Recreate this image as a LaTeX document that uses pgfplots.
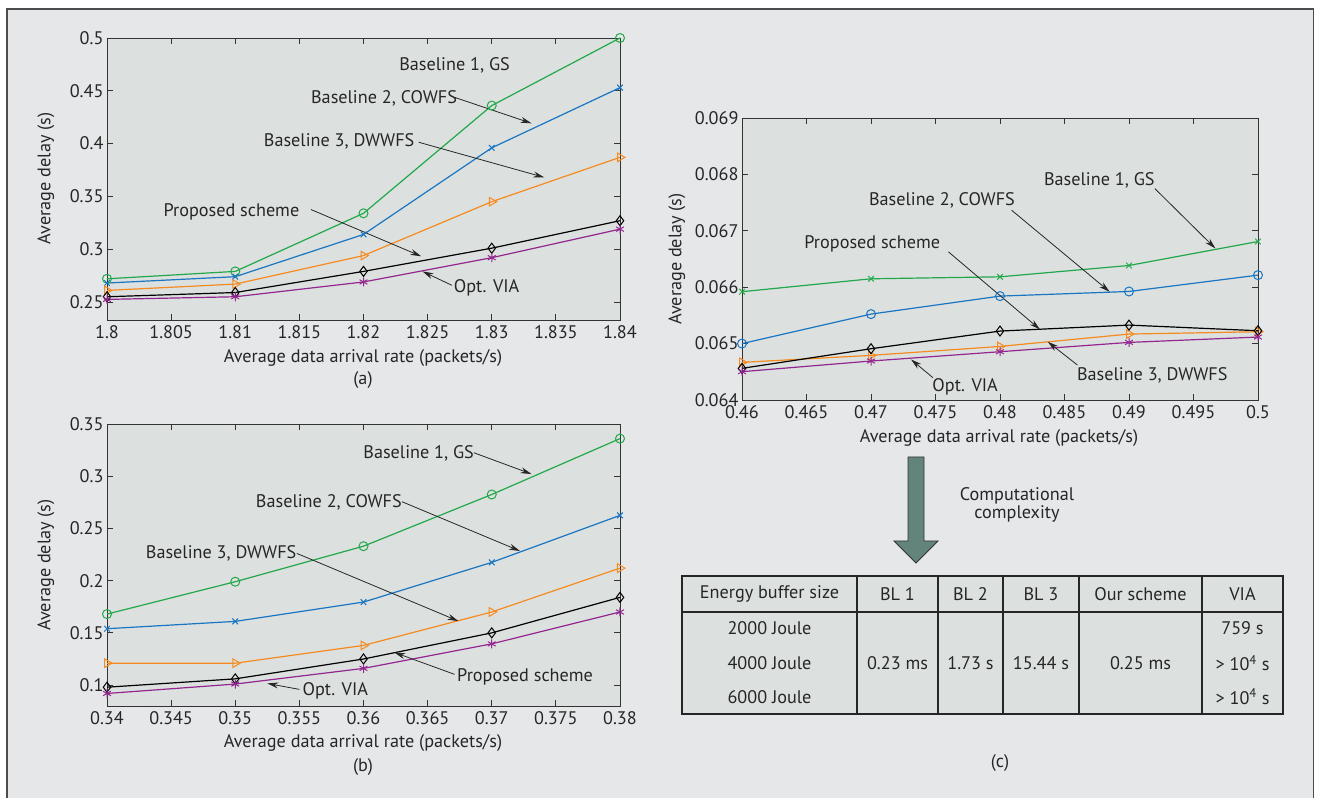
\documentclass[border=0pt]{standalone}
\usepackage{pgfplots}
\pgfplotsset{compat=1.18}
\usepackage{pgfplotstable}
\usepackage{fontspec}
\setmainfont{PT Sans}
\usetikzlibrary{arrows.meta}
\definecolor{framebg}{HTML}{E6E7E9}
\definecolor{axisbg}{HTML}{DCE1DF}
\definecolor{cgreen}{HTML}{22A84A}
\definecolor{cblue}{HTML}{1A75C2}
\definecolor{corange}{HTML}{F58A1F}
\definecolor{cpurple}{HTML}{93278F}
\definecolor{arrowfill}{HTML}{62847A}
\newcommand{\fs}{\fontsize{18.2}{21}\selectfont}

\pgfplotstableread{
x gs cowfs dwwfs prop via
1.80 0.272 0.268 0.261 0.255 0.2525
1.81 0.279 0.274 0.267 0.259 0.255
1.82 0.334 0.314 0.294 0.279 0.269
1.83 0.436 0.396 0.345 0.301 0.292
1.84 0.500 0.453 0.387 0.327 0.319
}\tableA
\pgfplotstableread{
x gs cowfs dwwfs prop via
0.34 0.168 0.154 0.121 0.098 0.092
0.35 0.199 0.161 0.121 0.106 0.101
0.36 0.233 0.1795 0.138 0.125 0.116
0.37 0.2825 0.2175 0.170 0.150 0.1395
0.38 0.336 0.2625 0.212 0.184 0.170
}\tableB
\pgfplotstableread{
x gs cowfs dwwfs prop via
0.46 0.06592 0.06500 0.064667 0.064561 0.064502
0.47 0.066149 0.065523 0.064791 0.064909 0.064691
0.48 0.066184 0.065842 0.06495 0.065222 0.064856
0.49 0.066385 0.065924 0.065169 0.065328 0.065021
0.50 0.06681 0.066214 0.06521 0.065228 0.065116
}\tableC

\tikzset{
  ann/.style={font=\fs, text=black!85, inner sep=1pt},
  arr/.style={-{Stealth[length=11pt,width=6pt]}, line width=0.8pt, black!85},
}
\pgfplotsset{
  panel/.style={
    scale only axis,
    anchor=south west,
    axis background/.style={fill=axisbg},
    axis line style={draw=black!80, line width=0.9pt},
    major tick length=6pt,
    tick style={draw=black!80, line width=0.8pt},
    tick align=inside,
    xtick pos=both, ytick pos=both,
    scaled ticks=false,
    /pgf/number format/assume math mode=true,
    /pgf/number format/.cd, fixed, precision=3,
    /pgfplots/.cd,
    tick label style={font=\fs, text=black!85},
    xticklabel style={yshift=-2pt},
    clip=false,
    every axis plot/.append style={line width=1.2pt},
  },
}

\begin{document}
\begin{tikzpicture}
\useasboundingbox (0pt,0pt) rectangle (1318pt,798pt);
\fill[white] (0pt,0pt) rectangle (1318pt,798pt);
\fill[framebg] (6pt,0pt) rectangle (1314pt,789pt);
\draw[black!70, line width=1.5pt] (6.75pt,0pt) -- (6.75pt,789pt) -- (1313.25pt,789pt) -- (1313.25pt,0pt);

% ---------------- (a)
\begin{axis}[panel, at={(107pt,478pt)}, width=513pt, height=282pt,
  xmin=1.8, xmax=1.84, ymin=0.233, ymax=0.5,
  xtick={1.8,1.805,1.81,1.815,1.82,1.825,1.83,1.835,1.84},
  ytick={0.25,0.3,0.35,0.4,0.45,0.5}]
\addplot[cgreen, mark=o, mark size=4.5pt, mark options={line width=1pt}] table[x=x,y=gs]{\tableA};
\addplot[cblue, mark=x, mark size=4pt, mark options={line width=1pt}] table[x=x,y=cowfs]{\tableA};
\addplot[corange, mark=triangle, mark size=5pt, mark options={rotate=-90, line width=1pt}] table[x=x,y=dwwfs]{\tableA};
\addplot[black, mark=diamond, mark size=5pt, mark options={line width=1pt}] table[x=x,y=prop]{\tableA};
\addplot[cpurple, mark=asterisk, mark size=4.5pt, mark options={line width=1pt}] table[x=x,y=via]{\tableA};
\node[ann] at (axis cs:1.8271,0.474) {Baseline 1, GS};
\node[ann] at (axis cs:1.8216,0.443) {Baseline 2, COWFS};
\draw[arr] (axis cs:1.8271,0.4438) -- (axis cs:1.8331,0.4192);
\node[ann] at (axis cs:1.8181,0.4022) {Baseline 3, DWWFS};
\draw[arr] (axis cs:1.8243,0.4013) -- (axis cs:1.8341,0.368);
\node[ann] at (axis cs:1.8097,0.335) {Proposed scheme};
\draw[arr] (axis cs:1.8159,0.3376) -- (axis cs:1.8245,0.2933);
\node[ann] at (axis cs:1.8296,0.263) {Opt. VIA};
\draw[arr] (axis cs:1.8269,0.2658) -- (axis cs:1.8246,0.279);
\end{axis}

% ---------------- (b)
\begin{axis}[panel, at={(107pt,92pt)}, width=513pt, height=282pt,
  xmin=0.34, xmax=0.38, ymin=0.08, ymax=0.35,
  xtick={0.34,0.345,0.35,0.355,0.36,0.365,0.37,0.375,0.38},
  ytick={0.1,0.15,0.2,0.25,0.3,0.35}]
\addplot[cgreen, mark=o, mark size=4.5pt, mark options={line width=1pt}] table[x=x,y=gs]{\tableB};
\addplot[cblue, mark=x, mark size=4pt, mark options={line width=1pt}] table[x=x,y=cowfs]{\tableB};
\addplot[corange, mark=triangle, mark size=5pt, mark options={rotate=-90, line width=1pt}] table[x=x,y=dwwfs]{\tableB};
\addplot[black, mark=diamond, mark size=5pt, mark options={line width=1pt}] table[x=x,y=prop]{\tableB};
\addplot[cpurple, mark=asterisk, mark size=4.5pt, mark options={line width=1pt}] table[x=x,y=via]{\tableB};
\node[ann] at (axis cs:0.3643,0.3219) {Baseline 1, GS};
\draw[arr] (axis cs:0.3686,0.3225) -- (axis cs:0.3731,0.3021);
\node[ann] at (axis cs:0.3573,0.2746) {Baseline 2, COWFS};
\draw[arr] (axis cs:0.3630,0.2756) -- (axis cs:0.3722,0.2284);
\node[ann] at (axis cs:0.3489,0.2261) {Baseline 3, DWWFS};
\draw[arr] (axis cs:0.3548,0.2261) -- (axis cs:0.3674,0.1613);
\node[ann] at (axis cs:0.3726,0.108) {Proposed scheme};
\draw[arr] (axis cs:0.3671,0.1103) -- (axis cs:0.3624,0.1313);
\node[ann] at (axis cs:0.3578,0.0943) {Opt. VIA};
\draw[arr] (axis cs:0.3550,0.0959) -- (axis cs:0.3525,0.1016);
\end{axis}

% ---------------- (c)
\begin{axis}[panel, at={(742pt,398pt)}, width=516pt, height=282pt,
  xmin=0.46, xmax=0.5, ymin=0.064, ymax=0.069,
  xtick={0.46,0.465,0.47,0.475,0.48,0.485,0.49,0.495,0.5},
  ytick={0.064,0.065,0.066,0.067,0.068,0.069}]
\addplot[cgreen, mark=x, mark size=4pt, mark options={line width=1pt}] table[x=x,y=gs]{\tableC};
\addplot[cblue, mark=o, mark size=4.5pt, mark options={line width=1pt}] table[x=x,y=cowfs]{\tableC};
\addplot[corange, mark=triangle, mark size=5pt, mark options={rotate=-90, line width=1pt}] table[x=x,y=dwwfs]{\tableC};
\addplot[black, mark=diamond, mark size=5pt, mark options={line width=1pt}] table[x=x,y=prop]{\tableC};
\addplot[cpurple, mark=asterisk, mark size=4.5pt, mark options={line width=1pt}] table[x=x,y=via]{\tableC};
\node[ann] at (axis cs:0.4877,0.067896) {Baseline 1, GS};
\draw[arr] (axis cs:0.4920,0.067749) -- (axis cs:0.4967,0.066686);
\node[ann] at (axis cs:0.4755,0.067542) {Baseline 2, COWFS};
\draw[arr] (axis cs:0.4809,0.067365) -- (axis cs:0.4885,0.065919);
\node[ann] at (axis cs:0.4701,0.066775) {Proposed scheme};
\draw[arr] (axis cs:0.4760,0.066627) -- (axis cs:0.4831,0.065251);
\node[ann] at (axis cs:0.4918,0.064443) {Baseline 3, DWWFS};
\draw[arr] (axis cs:0.4860,0.064620) -- (axis cs:0.4837,0.065033);
\node[ann] at (axis cs:0.4773,0.064236) {Opt. VIA};
\draw[arr] (axis cs:0.4748,0.064395) -- (axis cs:0.4731,0.064720);
\end{axis}

% axis labels
\node[ann] at (363pt,440pt) {Average data arrival rate (packets/s)};
\node[ann] at (363pt,418pt) {(a)};
\node[ann, rotate=90] at (46pt,619.5pt) {Average delay (s)};
\node[ann] at (363pt,55pt) {Average data arrival rate (packets/s)};
\node[ann] at (363pt,31pt) {(b)};
\node[ann] at (999pt,360pt) {Average data arrival rate (packets/s)};
\node[ann, rotate=90] at (46pt,233pt) {Average delay (s)};
\node[ann, rotate=90] at (677pt,539pt) {Average delay (s)};
\node[ann] at (1000pt,35pt) {(c)};

% big arrow
\filldraw[fill=arrowfill, draw=black!80, line width=0.8pt]
  (908pt,341pt) -- (908pt,257pt) -- (894pt,257pt) -- (916pt,235pt) -- (938pt,257pt) -- (924pt,257pt) -- (924pt,341pt) -- cycle;
\node[ann, align=center] at (1017pt,293pt) {Computational\\[-3pt]complexity};

% table
\filldraw[fill=axisbg, draw=black!85, line width=1.3pt] (682pt,84pt) rectangle (1283pt,222pt);
\draw[black!85, line width=1.3pt] (682pt,186pt) -- (1283pt,186pt);
\foreach \c in {857,938,1003,1079,1202} \draw[black!85, line width=1.1pt] (\c pt,84pt) -- (\c pt,222pt);
\node[ann] at (769.5pt,204pt) {Energy buffer size};
\node[ann] at (897.5pt,204pt) {BL 1};
\node[ann] at (970.5pt,204pt) {BL 2};
\node[ann] at (1041pt,204pt) {BL 3};
\node[ann] at (1140.5pt,204pt) {Our scheme};
\node[ann] at (1242.5pt,204pt) {VIA};
\node[ann] at (769.5pt,170.3pt) {2000 Joule};
\node[ann] at (769.5pt,135pt) {4000 Joule};
\node[ann] at (769.5pt,101.3pt) {6000 Joule};
\node[ann] at (897.5pt,135pt) {0.23 ms};
\node[ann] at (970.5pt,135pt) {1.73 s};
\node[ann] at (1041pt,135pt) {15.44 s};
\node[ann] at (1140.5pt,135pt) {0.25 ms};
\node[ann] at (1242.5pt,170.3pt) {759 s};
\node[ann] at (1242.5pt,135pt) {> 10\textsuperscript{4} s};
\node[ann] at (1242.5pt,101.3pt) {> 10\textsuperscript{4} s};
\end{tikzpicture}
\end{document}
